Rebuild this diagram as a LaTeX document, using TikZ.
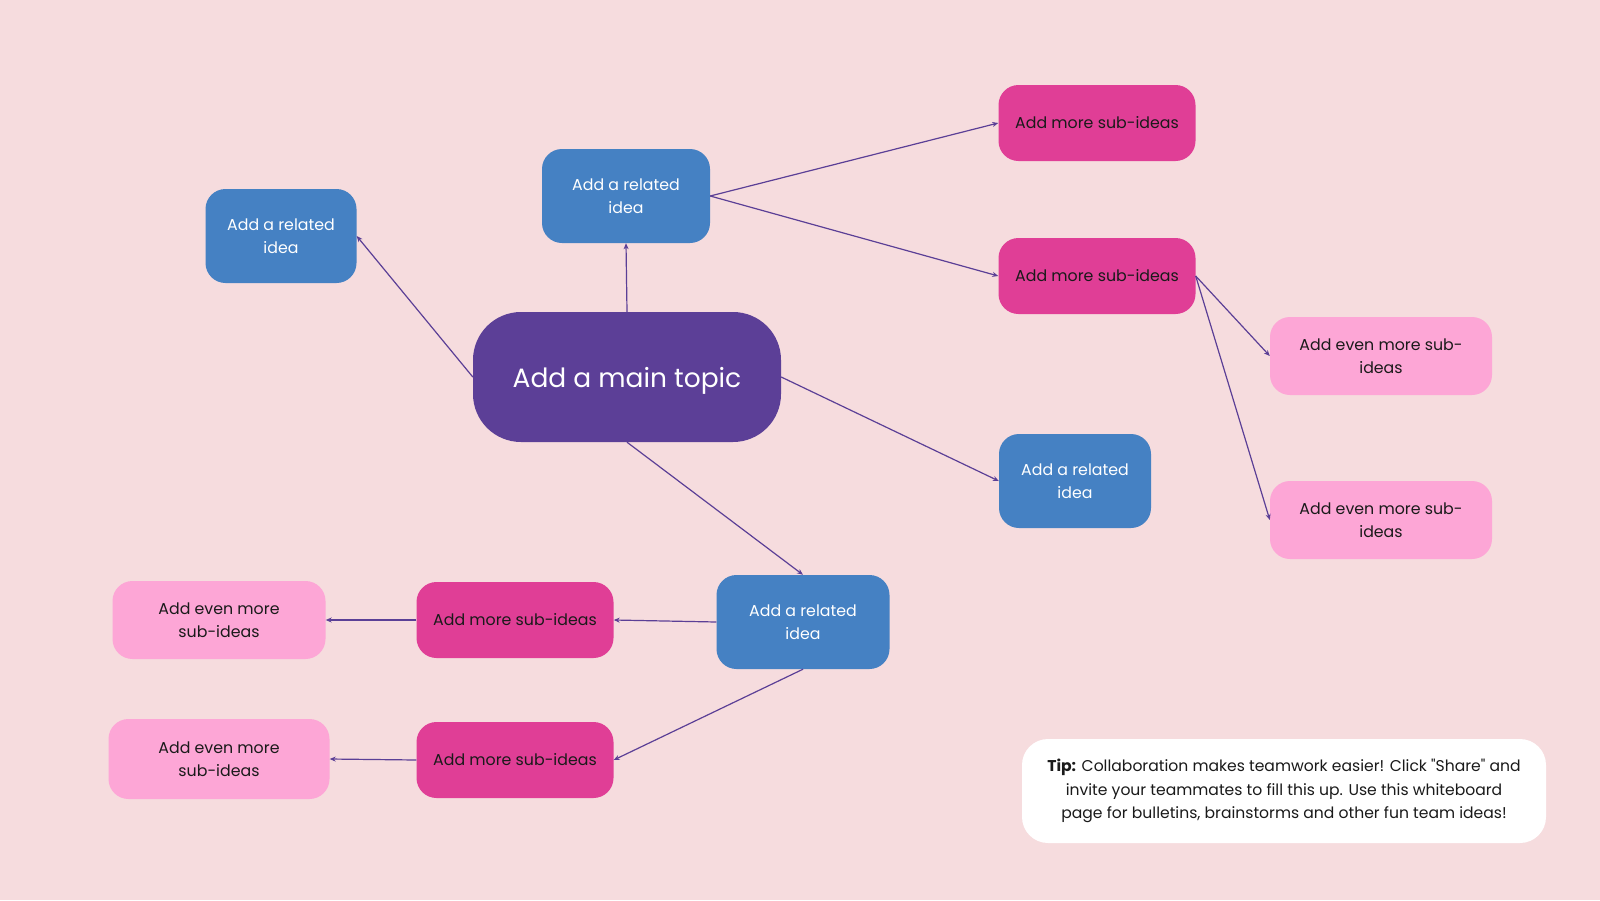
\documentclass[tikz,border=0pt]{standalone}
\usepackage{fontspec}
\setmainfont{Poppins}[Ligatures=TeXOff]
\usepackage{tikz}
\usetikzlibrary{arrows.meta}
\definecolor{bg}{HTML}{F6DCDE}
\definecolor{topic}{HTML}{5C3F97}
\definecolor{idea}{HTML}{4581C3}
\definecolor{subidea}{HTML}{E03E96}
\definecolor{evenidea}{HTML}{FDA6D6}
\definecolor{link}{HTML}{5B3F96}
\definecolor{ink}{HTML}{1A1A1A}
\tikzset{s/.style={font=\fontsize{15.8}{23.5}\selectfont}}
\tikzset{main/.style={fill=topic,text=white,rounded corners=48pt,minimum width=308pt,minimum height=130pt,text depth=0pt,font=\fontsize{26.5}{30}\selectfont}}
\tikzset{rel/.style={s,fill=idea,text=white,rounded corners=20pt,minimum height=94pt,align=center,inner sep=0pt}}
\tikzset{sub/.style={s,fill=subidea,text=ink,rounded corners=20pt,minimum width=197pt,minimum height=76pt,align=center,inner sep=0pt}}
\tikzset{even/.style={s,fill=evenidea,text=ink,rounded corners=20pt,minimum height=78pt,align=center,inner sep=0pt}}
\tikzset{arr/.style={draw=link,line width=1.2pt,-{Stealth[length=6pt,width=5pt]}}}

\begin{document}
\begin{tikzpicture}[x=1pt,y=-1pt]
        \fill[bg] (0,0) rectangle (1600,900);
        \node[main] (main) at (627,377) {Add a main topic};
        \node[rel,minimum width=151pt] (relL) at (281,236) {Add a related\\idea};
        \node[rel,minimum width=168pt] (relT) at (626,196) {Add a related\\idea};
        \node[rel,minimum width=152pt] (relR) at (1075,481) {Add a related\\idea};
        \node[rel,minimum width=173pt] (relB) at (803,622) {Add a related\\idea};
        \node[sub] (subT1) at (1097,123) {Add more sub-ideas};
        \node[sub] (subT2) at (1097,276) {Add more sub-ideas};
        \node[sub] (subB1) at (515,620) {Add more sub-ideas};
        \node[sub] (subB2) at (515,760) {Add more sub-ideas};
        \node[even,minimum width=222pt] (evenR1) at (1381,356) {Add even more sub-\\ideas};
        \node[even,minimum width=222pt] (evenR2) at (1381,520) {Add even more sub-\\ideas};
        \node[even,minimum width=213pt] (evenL1) at (219,620) {Add even more\\sub-ideas};
        \node[even,minimum width=221pt,minimum height=80pt] (evenL2) at (219,759) {Add even more\\sub-ideas};
        \node[s,font=\fontsize{15.6}{23.5}\selectfont,fill=white,text=ink,rounded corners=26pt,minimum width=524pt,minimum height=104pt,align=center,inner sep=0pt] (tip) at (1284,791)
          {\textbf{Tip:} Collaboration makes teamwork easier! Click "Share" and\\invite your teammates to fill this up. Use this whiteboard\\page for bulletins, brainstorms and other fun team ideas!};
        % links
        \path (main.west) edge [arr] (relL.east);
        \path (main.north) edge [arr] (relT.south);
        \path (main.east) edge [arr] (relR.west);
        \path (main.south) edge [arr] (relB.north);
        \path (relT.east) edge [arr] (subT1.west)
          edge [arr] (subT2.west);
        \path (subT2.east) edge [arr] (evenR1.west)
          edge [arr] (evenR2.west);
        \path (relB.west) edge [arr] (subB1.east);
        \path (relB.south) edge [arr] (subB2.east);
        \path (subB1.west) edge [arr] (evenL1.east);
        \path (subB2.west) edge [arr] (evenL2.east);
\end{tikzpicture}
\end{document}
